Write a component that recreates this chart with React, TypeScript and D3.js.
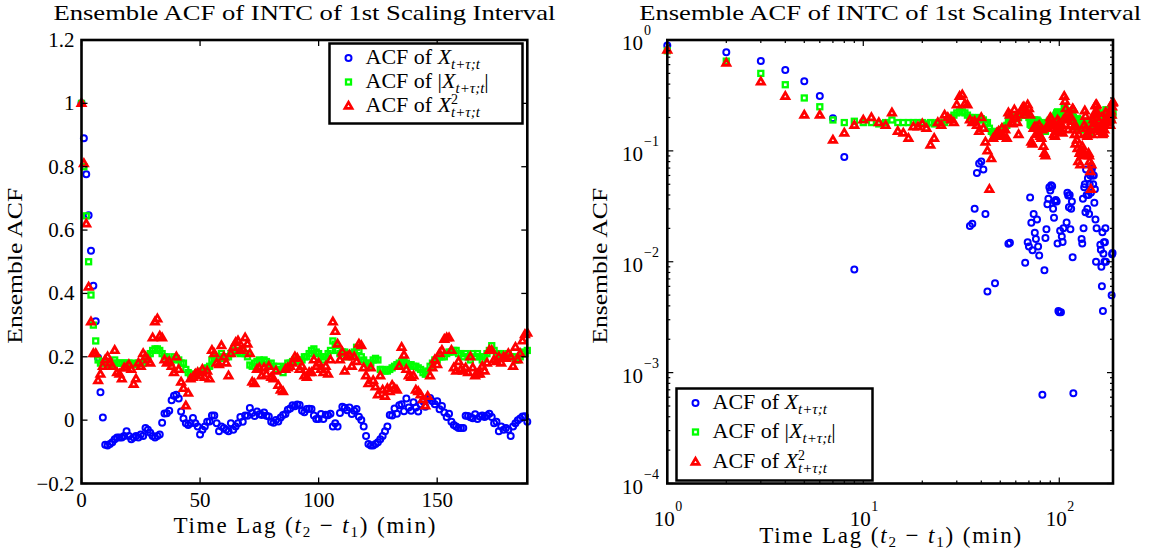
import React from 'react';
import * as d3 from 'd3';

// ensemble ACF values, lags 0..188
const acfX = [
  1, 0.89, 0.776, 0.647, 0.535, 0.424, 0.312, 0.197, 0.088, 0.0085,
  -0.078, -0.08, -0.075, -0.07, -0.06, -0.055, -0.055, -0.055, -0.05, -0.035,
  -0.05, -0.06, -0.055, -0.05, -0.055, -0.045, -0.05, -0.025, -0.03, -0.04,
  -0.05, -0.055, -0.05, -0.045, -0.008, 0.021, 0.022, 0.03, 0.063, 0.077,
  0.08, 0.068, 0.027, 0.0054, -0.01, -0.015, -0.01, 0.0064, -0.01, -0.02,
  -0.045, -0.03, -0.02, -0.005, -0.004, 0.0145, 0.0148, -0.01, -0.035, -0.02,
  -0.025, -0.03, -0.035, -0.01, -0.03, -0.02, -0.01, 0.0098, -0.005, 0.015,
  0.0137, 0.038, 0.0225, 0.0127, 0.027, 0.0183, 0.016, 0.024, 0.0137, 0.0114,
  -0.005, -0.008, 0.00063, -0.004, 0.0084, 0.0164, 0.0196, 0.033, 0.037, 0.047,
  0.044, 0.049, 0.048, 0.03, 0.025, 0.035, 0.036, 0.035, 0.0146, 0.0036,
  0.0035, 0.019, 0.0035, 0.0169, 0.0151, 0.02, -0.02, -0.01, -0.02, 0.0226,
  0.042, 0.0395, 0.031, 0.04, 0.0196, 0.03, 0.035, 0.011, 0.00065, -0.02,
  -0.05, -0.075, -0.08, -0.08, -0.075, -0.07, -0.06, -0.05, -0.035, -0.02,
  0.016, 0.0146, 0.037, 0.02, 0.047, 0.05, 0.028, 0.068, 0.04, 0.03,
  0.0565, 0.04, 0.027, 0.05, 0.06, 0.042, 0.065, 0.07, 0.06, 0.05,
  0.06, 0.034, 0.045, 0.024, 0.01, 0.02, -0.005, -0.015, -0.02, -0.025,
  -0.025, -0.025, 0.0142, 0.0128, 0.009, 0.006, 0.0185, 0.0036, 0.0118, 0.015,
  0.01, 0.015, 0.02, 0.01, -0.01, -0.005, -0.035, -0.02, -0.03, -0.025,
  -0.03, -0.05, -0.02, -0.01, 0.0, 0.005, 0.0117, 0.012, -0.005,
];

const acfAbs = [
  1, 0.8, 0.645, 0.5, 0.395, 0.3, 0.25, 0.19, 0.18, 0.185,
  0.18, 0.18, 0.175, 0.18, 0.19, 0.18, 0.18, 0.18, 0.18, 0.18,
  0.18, 0.175, 0.18, 0.175, 0.18, 0.18, 0.18, 0.19, 0.2, 0.21,
  0.22, 0.225, 0.225, 0.22, 0.21, 0.2, 0.2, 0.19, 0.19, 0.2,
  0.195, 0.19, 0.18, 0.18, 0.16, 0.15, 0.145, 0.14, 0.145, 0.15,
  0.15, 0.155, 0.16, 0.165, 0.17, 0.19, 0.195, 0.2, 0.2, 0.21,
  0.195, 0.2, 0.2, 0.21, 0.22, 0.22, 0.215, 0.21, 0.22, 0.21,
  0.2, 0.174, 0.17, 0.18, 0.185, 0.19, 0.185, 0.19, 0.185, 0.175,
  0.18, 0.17, 0.16, 0.17, 0.16, 0.15, 0.17, 0.18, 0.18, 0.185,
  0.19, 0.19, 0.185, 0.19, 0.2, 0.2, 0.21, 0.22, 0.225, 0.215,
  0.21, 0.2, 0.19, 0.2, 0.21, 0.22, 0.25, 0.24, 0.22, 0.21,
  0.215, 0.215, 0.2, 0.205, 0.21, 0.215, 0.23, 0.22, 0.2, 0.19,
  0.18, 0.17, 0.18, 0.19, 0.195, 0.19, 0.16, 0.16, 0.155, 0.155,
  0.16, 0.165, 0.17, 0.175, 0.18, 0.185, 0.185, 0.18, 0.175, 0.175,
  0.17, 0.17, 0.165, 0.16, 0.15, 0.145, 0.155, 0.17, 0.18, 0.19,
  0.19, 0.2, 0.2, 0.2, 0.21, 0.215, 0.215, 0.22, 0.22, 0.21,
  0.21, 0.2, 0.21, 0.2, 0.19, 0.21, 0.2, 0.21, 0.2, 0.19,
  0.2, 0.21, 0.22, 0.235, 0.22, 0.2, 0.21, 0.21, 0.2, 0.2,
  0.21, 0.2, 0.2, 0.19, 0.19, 0.2, 0.215, 0.21, 0.22,
];

const acfSq = [
  1, 0.81, 0.62, 0.42, 0.31, 0.21, 0.21, 0.125, 0.145, 0.17,
  0.19, 0.2, 0.18, 0.17, 0.22, 0.15, 0.145, 0.13, 0.165, 0.165,
  0.175, 0.16, 0.113, 0.13, 0.18, 0.17, 0.21, 0.2, 0.19, 0.18,
  0.26, 0.31, 0.32, 0.265, 0.26, 0.19, 0.18, 0.185, 0.17, 0.15,
  0.2, 0.16, 0.12, 0.1, 0.045, 0.085, 0.13, 0.135, 0.145, 0.15,
  0.14, 0.16, 0.135, 0.155, 0.13, 0.22, 0.21, 0.18, 0.175, 0.235,
  0.2, 0.18, 0.14, 0.21, 0.23, 0.245, 0.25, 0.22, 0.225, 0.26,
  0.24, 0.21, 0.12, 0.115, 0.16, 0.165, 0.14, 0.165, 0.145, 0.17,
  0.135, 0.13, 0.155, 0.11, 0.095, 0.09, 0.16, 0.165, 0.17, 0.18,
  0.2, 0.195, 0.16, 0.17, 0.14, 0.135, 0.15, 0.15, 0.19, 0.17,
  0.18, 0.16, 0.15, 0.17, 0.145, 0.19, 0.31, 0.28, 0.24, 0.19,
  0.215, 0.155, 0.2, 0.205, 0.17, 0.2, 0.185, 0.24, 0.235, 0.165,
  0.14, 0.115, 0.165, 0.125, 0.105, 0.08, 0.14, 0.095, 0.075, 0.1,
  0.09, 0.11, 0.1, 0.095, 0.17, 0.23, 0.205, 0.16, 0.14, 0.135,
  0.14, 0.095, 0.09, 0.08, 0.065, 0.045, 0.075, 0.14, 0.165, 0.19,
  0.175, 0.21, 0.22, 0.255, 0.26, 0.26, 0.22, 0.165, 0.155, 0.185,
  0.16, 0.155, 0.165, 0.15, 0.2, 0.165, 0.14, 0.145, 0.145, 0.17,
  0.155, 0.18, 0.22, 0.22, 0.19, 0.185, 0.2, 0.18, 0.2, 0.195,
  0.21, 0.2, 0.17, 0.23, 0.19, 0.21, 0.25, 0.27, 0.275,
];

const linYTicks = [-0.2, 0, 0.2, 0.4, 0.6, 0.8, 1, 1.2];
const linXTicks = [0, 50, 100, 150];
const logYExps = [0, -1, -2, -3, -4];
const logXExps = [0, 1, 2];
const minorMults = [2, 3, 4, 5, 6, 7, 8, 9];

const TITLE = 'Ensemble ACF of INTC of 1st Scaling Interval';
const FONT = '"Liberation Serif", "DejaVu Serif", serif';
const BLUE = '#0000ff';
const GREEN = '#00ff00';
const RED = '#ff0000';

const TOP = 40;
const BOTTOM = 483.5;

const fmtTick = (v: number) => {
  const s = d3.format('.1f')(v).replace(/\.0$/, '');
  return s.replace('-', '\u2212');
};

const Circle = ({ x, y }: { x: number; y: number }) => (
  <circle cx={x} cy={y} r={3} fill="none" stroke={BLUE} strokeWidth={2} />
);
const Square = ({ x, y }: { x: number; y: number }) => (
  <rect x={x - 2.5} y={y - 2.5} width={5} height={5} fill="none" stroke={GREEN} strokeWidth={2.3} />
);
const Tri = ({ x, y }: { x: number; y: number }) => (
  <path d={`M${x},${y - 3.9}L${x + 3.6},${y + 2.3}L${x - 3.6},${y + 2.3}Z`} fill="none" stroke={RED} strokeWidth={2.7} />
);

const Markers = ({ xs, ys, keep }: { xs: (i: number) => number; ys: (v: number) => number; keep: (i: number, v: number) => boolean }) => (
  <g>
    {acfX.map((v, i) => keep(i, v) ? <Circle key={'b' + i} x={xs(i)} y={ys(v)} /> : null)}
    {acfAbs.map((v, i) => keep(i, v) ? <Square key={'g' + i} x={xs(i)} y={ys(v)} /> : null)}
    {acfSq.map((v, i) => keep(i, v) ? <Tri key={'r' + i} x={xs(i)} y={ys(v)} /> : null)}
  </g>
);

const Sub = () => <tspan fontSize={15} fontStyle="italic" dy={5}>t+τ;t</tspan>;

const Legend = ({ x0, y0, w, h, rows, fs }: { x0: number; y0: number; w: number; h: number; rows: number[]; fs: number }) => {
  const mx = x0 + 19;
  const tx = x0 + 36;
  return (
    <g fontFamily={FONT} fontSize={fs}>
      <rect x={x0} y={y0} width={w} height={h} fill="#fff" stroke="#000" strokeWidth={2.5} />
      <Circle x={mx} y={rows[0]} />
      <Square x={mx} y={rows[1]} />
      <Tri x={mx} y={rows[2]} />
      <text x={tx} y={rows[0] + 6}>
        ACF of <tspan fontStyle="italic">X</tspan><Sub />
      </text>
      <text x={tx} y={rows[1] + 6}>
        ACF of |<tspan fontStyle="italic">X</tspan><Sub /><tspan dy={-5}>|</tspan>
      </text>
      <text x={tx} y={rows[2] + 6}>
        ACF of <tspan fontStyle="italic">X</tspan>
        <tspan fontSize={14} dy={-8}>2</tspan>
        <tspan fontSize={15} fontStyle="italic" dx={-7} dy={13}>t+τ;t</tspan>
      </text>
    </g>
  );
};

const XLabel = ({ cx, y }: { cx: number; y: number }) => (
  <text x={cx} y={y} textAnchor="middle" fontFamily={FONT} fontSize={23} textLength={262} lengthAdjust="spacing">
    Time Lag (<tspan fontStyle="italic">t</tspan><tspan fontSize={15} dy={4}>2</tspan>
    <tspan dy={-4}> − </tspan><tspan fontStyle="italic">t</tspan><tspan fontSize={15} dy={4}>1</tspan>
    <tspan dy={-4}>) (min)</tspan>
  </text>
);

const Frame = ({ x0, x1 }: { x0: number; x1: number }) => (
  <g fontFamily={FONT}>
    <text x={(x0 + x1) / 2} y={20} textAnchor="middle" fontSize={21} textLength={502} lengthAdjust="spacingAndGlyphs">{TITLE}</text>
    <text transform={`translate(${x0 - 60},${(TOP + BOTTOM) / 2 + 4}) rotate(-90)`} textAnchor="middle" fontSize={21} textLength={156} lengthAdjust="spacingAndGlyphs">Ensemble ACF</text>
  </g>
);

const LinearPanel = () => {
  const x0 = 81.5, x1 = 527.3;
  const x = d3.scaleLinear().domain([0, 188]).range([x0, x1]);
  const y = d3.scaleLinear().domain([-0.2, 1.2]).range([BOTTOM, TOP]);
  return (
    <g>
      <Frame x0={x0} x1={x1} />
      <Markers xs={(i) => x(i)} ys={(v) => y(v)} keep={() => true} />
      <g stroke="#000" strokeWidth={1.3}>
        {linYTicks.map((t) => (
          <g key={'yt' + t}>
            <line x1={x0} x2={x0 + 6} y1={y(t)} y2={y(t)} />
            <line x1={x1} x2={x1 - 6} y1={y(t)} y2={y(t)} />
          </g>
        ))}
        {linXTicks.map((t) => (
          <g key={'xt' + t}>
            <line x1={x(t)} x2={x(t)} y1={BOTTOM} y2={BOTTOM - 6} />
            <line x1={x(t)} x2={x(t)} y1={TOP} y2={TOP + 6} />
          </g>
        ))}
      </g>
      <rect x={x0} y={TOP} width={x1 - x0} height={BOTTOM - TOP} fill="none" stroke="#000" strokeWidth={2.6} />
      <g fontFamily={FONT} fontSize={21}>
        {linYTicks.map((t) => (
          <text key={'yl' + t} x={x0 - 7} y={y(t) + 7} textAnchor="end">{fmtTick(t)}</text>
        ))}
        {linXTicks.map((t) => (
          <text key={'xl' + t} x={x(t)} y={507} textAnchor="middle">{t}</text>
        ))}
      </g>
      <XLabel cx={(x0 + x1) / 2} y={533} />
      <Legend x0={329.5} y0={43.5} w={193} h={80} rows={[58, 82, 106]} fs={22} />
    </g>
  );
};

const LogPanel = () => {
  const x0 = 667.3, x1 = 1113;
  const x = d3.scaleLog().domain([1, 188]).range([x0, x1]);
  const y = d3.scaleLog().domain([1e-4, 1]).range([BOTTOM, TOP]);
  const minorY = logYExps.slice(1).flatMap((e) => minorMults.map((m) => m * Math.pow(10, e)));
  const minorX = logXExps.flatMap((e) => minorMults.map((m) => m * Math.pow(10, e))).filter((v) => v < 188);
  return (
    <g>
      <Frame x0={x0} x1={x1} />
      <Markers xs={(i) => x(i)} ys={(v) => y(v)} keep={(i, v) => i >= 1 && v > 0} />
      <g stroke="#000" strokeWidth={1.2}>
        {logYExps.map((e) => {
          const v = Math.pow(10, e);
          return (
            <g key={'ye' + e}>
              <line x1={x0} x2={x0 + 6} y1={y(v)} y2={y(v)} />
              <line x1={x1} x2={x1 - 6} y1={y(v)} y2={y(v)} />
            </g>
          );
        })}
        {minorY.map((v) => (
          <g key={'ym' + v}>
            <line x1={x0} x2={x0 + 3} y1={y(v)} y2={y(v)} />
            <line x1={x1} x2={x1 - 3} y1={y(v)} y2={y(v)} />
          </g>
        ))}
        {logXExps.map((e) => {
          const v = Math.pow(10, e);
          return (
            <g key={'xe' + e}>
              <line x1={x(v)} x2={x(v)} y1={BOTTOM} y2={BOTTOM - 6} />
              <line x1={x(v)} x2={x(v)} y1={TOP} y2={TOP + 6} />
            </g>
          );
        })}
        {minorX.map((v) => (
          <g key={'xm' + v}>
            <line x1={x(v)} x2={x(v)} y1={BOTTOM} y2={BOTTOM - 3} />
            <line x1={x(v)} x2={x(v)} y1={TOP} y2={TOP + 3} />
          </g>
        ))}
      </g>
      <rect x={x0} y={TOP} width={x1 - x0} height={BOTTOM - TOP} fill="none" stroke="#000" strokeWidth={2.6} />
      <g fontFamily={FONT}>
        {logYExps.map((e) => {
          const yy = y(Math.pow(10, e));
          return (
            <g key={'yl' + e}>
              <text x={643} y={yy + 10} textAnchor="end" fontSize={21}>10</text>
              <text x={644} y={yy - 5} fontSize={14}>{String(e).replace('-', '\u2212')}</text>
            </g>
          );
        })}
        {logXExps.map((e) => {
          const xx = x(Math.pow(10, e));
          return (
            <g key={'xl' + e}>
              <text x={xx - 3} y={526} textAnchor="middle" fontSize={21}>10</text>
              <text x={xx + 8} y={511} fontSize={14}>{e}</text>
            </g>
          );
        })}
      </g>
      <XLabel cx={(x0 + x1) / 2} y={543} />
      <Legend x0={676.5} y0={388.5} w={196} h={92} rows={[403, 432, 462]} fs={22} />
    </g>
  );
};

export default function App() {
  return (
    <svg width={1163} height={552} viewBox="0 0 1163 552" style={{ position: 'absolute', left: 0, top: 0, background: '#fff' }}>
      <rect width={1163} height={552} fill="#fff" />
      <LinearPanel />
      <LogPanel />
    </svg>
  );
}
